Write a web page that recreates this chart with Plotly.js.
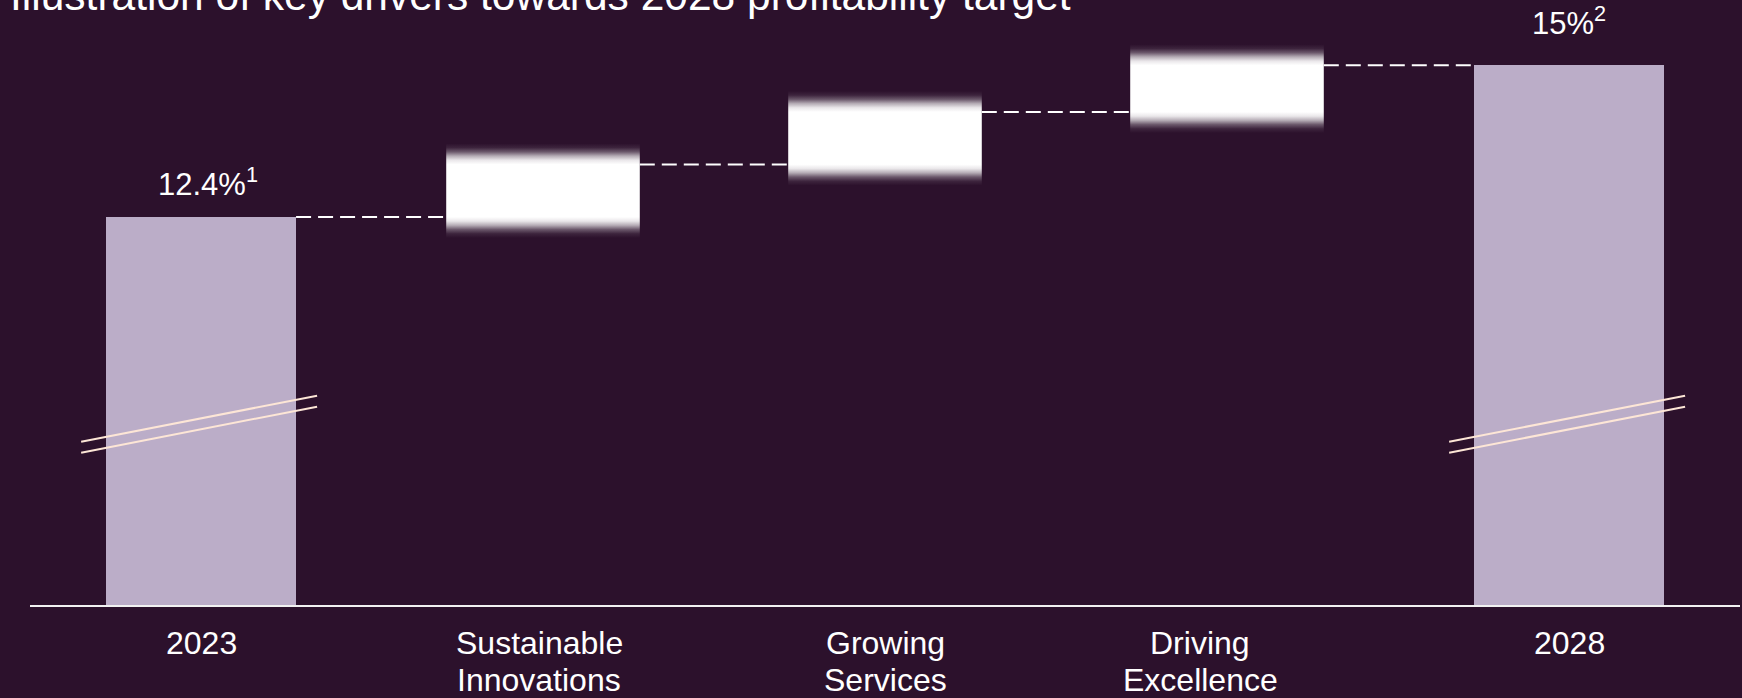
<!DOCTYPE html>
<html><head><meta charset="utf-8">
<script src="https://cdn.plot.ly/plotly-3.0.1.min.js"></script>
<style>html,body{margin:0;padding:0;background:#2C112C;}#chart{width:1742px;height:698px;}</style>
</head><body><div id="chart"></div>
<script>
// ---- data ----
const categories = ['2023', 'Sustainable<br>Innovations', 'Growing<br>Services', 'Driving<br>Excellence', '2028'];
const startValue = 12.4;
const endValue = 15;
const driverDeltas = [0.9, 0.9, 0.8];
const valueLabels = ['12.4%<sup>1</sup>', '15%<sup>2</sup>'];
const titleText = 'Illustration of key drivers towards 2028 profitability target';

// ---- style ----
const BG = '#2C112C';
const BAR = '#BBADC8';
const FONT = 'Arial, "Liberation Sans", sans-serif';
const barW = 0.556, boxW = 0.566, blurPad = 0.36;
const yMin = 5.745, yMax = 16.12;
const labelXShift = [0, -4, 0, -27, 0];
const labelLineYShift = [-17.6, -55.1];
const valueYShift = [12.5, 22.5];
const valueXShift = [7, 0];

const bgRGB = [44, 17, 44];
function mix(p) {
  const c = bgRGB.map(v => Math.round(v + (255 - v) * p));
  return 'rgb(' + c.join(',') + ')';
}

const idx = categories.map((c, i) => i);
const traces = [];
traces.push({
  type: 'bar', x: [idx[0], idx[4]], y: [startValue, endValue],
  width: barW, marker: {color: BAR, line: {width: 0}}, hoverinfo: 'skip'
});

// cumulative levels
const levels = [startValue];
driverDeltas.forEach(d => levels.push(+(levels[levels.length - 1] + d).toFixed(3)));

driverDeltas.forEach((d, k) => {
  const i = k + 1;
  const lo = levels[k] - blurPad, hi = levels[k + 1] + blurPad;
  const f = blurPad / (hi - lo);
  const prof = [[0, 0], [0.2, 0.08], [0.4, 0.3], [0.6, 0.65], [0.8, 0.9], [1, 1]];
  const cs = [];
  prof.forEach(([t, p]) => cs.push([t * f, mix(p)]));
  prof.slice().reverse().forEach(([t, p]) => cs.push([1 - t * f, mix(p)]));
  traces.push({
    type: 'scatter', mode: 'lines', line: {width: 0, color: 'rgba(0,0,0,0)'},
    x: [i - boxW / 2, i + boxW / 2, i + boxW / 2, i - boxW / 2, i - boxW / 2],
    y: [lo, lo, hi, hi, lo],
    fill: 'toself',
    fillgradient: {type: 'vertical', colorscale: cs, start: lo, stop: hi},
    hoverinfo: 'skip'
  });
});

const shapes = [];
// connectors
const edges = [barW, boxW, boxW, boxW, barW];
for (let k = 0; k < levels.length; k++) {
  shapes.push({
    type: 'line', xref: 'x', yref: 'y',
    x0: idx[k] + edges[k] / 2, x1: idx[k + 1] - edges[k + 1] / 2,
    y0: levels[k], y1: levels[k],
    line: {color: '#FFFFFF', width: 2, dash: '15px,7px'}
  });
}
// axis break marks on the two total bars
[idx[0], idx[4]].forEach(i => {
  [[0.2699, 0.3459], [0.2517, 0.3278]].forEach(([a, b]) => {
    shapes.push({
      type: 'line', xref: 'x', yref: 'paper',
      x0: i - barW / 2 - 0.0725, x1: i + barW / 2 + 0.0615,
      y0: a, y1: b,
      line: {color: '#FDE6D6', width: 2}
    });
  });
});

const annotations = [];
annotations.push({
  text: titleText, xref: 'paper', yref: 'paper', x: 0, y: 1, xshift: -22, yshift: 5,
  xanchor: 'left', yanchor: 'middle', showarrow: false,
  font: {family: FONT, size: 42.5, color: '#FFFFFF'}
});
categories.forEach((c, i) => {
  c.split('<br>').forEach((line, j) => {
    annotations.push({
      text: line, xref: 'x', yref: 'paper', x: i, y: 0, yanchor: 'top', xanchor: 'center',
      xshift: labelXShift[i], yshift: labelLineYShift[j], showarrow: false,
      font: {family: FONT, size: 32, color: '#FFFFFF'}
    });
  });
});
[[idx[0], startValue], [idx[4], endValue]].forEach(([x, y], k) => {
  annotations.push({
    text: valueLabels[k], xref: 'x', yref: 'y', x: x, y: y,
    yanchor: 'bottom', xanchor: 'center', xshift: valueXShift[k], yshift: valueYShift[k], showarrow: false,
    font: {family: FONT, size: 31, color: '#FFFFFF'}
  });
});

const layout = {
  width: 1742, height: 698,
  margin: {l: 30, r: 2, t: 0, b: 93},
  paper_bgcolor: BG, plot_bgcolor: BG,
  showlegend: false, hovermode: false,
  xaxis: {range: [-0.5, 4.5], showgrid: false, zeroline: false, showticklabels: false,
          ticks: '', showline: true, linecolor: '#F2F2F2', linewidth: 1.5, fixedrange: true},
  yaxis: {range: [yMin, yMax], showgrid: false, zeroline: false, showticklabels: false,
          ticks: '', showline: false, fixedrange: true},
  shapes: shapes, annotations: annotations, bargap: 0
};
Plotly.newPlot('chart', traces, layout, {displayModeBar: false, staticPlot: true});
</script></body></html>
